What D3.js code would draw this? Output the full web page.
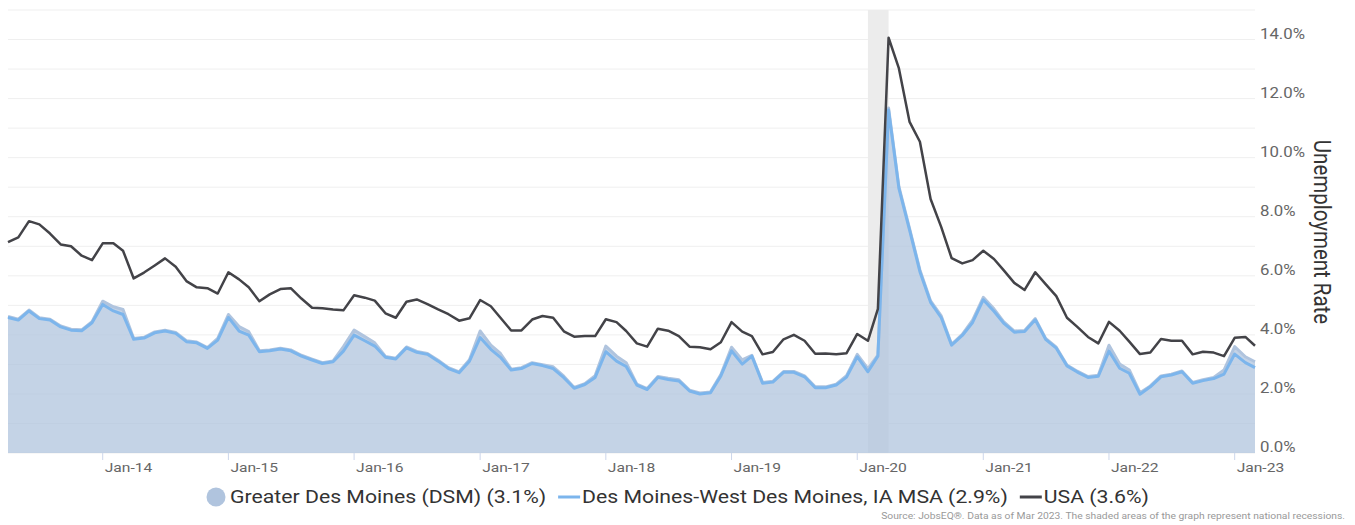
<!DOCTYPE html>
<html>
<head>
<meta charset="utf-8">
<script src="https://cdn.jsdelivr.net/npm/d3@7"></script>
<style>
  body { margin: 0; background: #fff; }
  text { font-family: Roboto, "Noto Sans", sans-serif; }
</style>
</head>
<body>
<div id="chart"></div>
<script>
// monthly unemployment rate, Apr 2013 .. Mar 2023
const usa = [
  7.14, 7.30, 7.85, 7.74, 7.43, 7.06, 7.00, 6.68, 6.53, 7.10, 7.10, 6.85, 5.91, 6.11, 6.35, 6.59, 6.31, 5.82, 5.61, 5.58, 5.40, 6.12, 5.88, 5.61, 5.14, 5.37, 5.55, 5.58, 5.23, 4.92,
  4.90, 4.86, 4.83, 5.34, 5.26, 5.16, 4.73, 4.58, 5.12, 5.20, 5.04, 4.86, 4.70, 4.48, 4.56, 5.18, 4.97, 4.58, 4.15, 4.15, 4.52, 4.64, 4.58, 4.12, 3.94, 3.96, 3.96, 4.53, 4.43, 4.13,
  3.71, 3.60, 4.21, 4.14, 3.96, 3.60, 3.58, 3.51, 3.75, 4.43, 4.11, 3.96, 3.34, 3.42, 3.85, 4.00, 3.80, 3.36, 3.37, 3.34, 3.38, 4.03, 3.80, 4.88, 14.06, 13.02, 11.21, 10.54, 8.60, 7.65,
  6.60, 6.42, 6.53, 6.85, 6.57, 6.19, 5.76, 5.52, 6.12, 5.72, 5.31, 4.58, 4.27, 3.93, 3.71, 4.44, 4.14, 3.77, 3.35, 3.40, 3.86, 3.80, 3.80, 3.34, 3.43, 3.40, 3.28, 3.90, 3.93, 3.63
];
const msa = [
  4.59, 4.50, 4.81, 4.55, 4.50, 4.27, 4.16, 4.14, 4.41, 5.03, 4.81, 4.69, 3.85, 3.89, 4.07, 4.13, 4.05, 3.77, 3.73, 3.54, 3.82, 4.59, 4.13, 3.99, 3.43, 3.46, 3.52, 3.46, 3.28, 3.15,
  3.03, 3.09, 3.45, 3.99, 3.80, 3.62, 3.24, 3.18, 3.56, 3.41, 3.34, 3.11, 2.86, 2.72, 3.11, 3.91, 3.51, 3.24, 2.81, 2.86, 3.03, 2.96, 2.86, 2.55, 2.19, 2.32, 2.56, 3.43, 3.11, 2.93,
  2.30, 2.15, 2.56, 2.49, 2.44, 2.10, 2.00, 2.04, 2.61, 3.46, 3.01, 3.28, 2.36, 2.40, 2.73, 2.73, 2.58, 2.21, 2.21, 2.30, 2.57, 3.26, 2.75, 3.28, 11.61, 8.96, 7.55, 6.14, 5.10, 4.58,
  3.65, 3.98, 4.42, 5.19, 4.80, 4.40, 4.09, 4.11, 4.51, 3.85, 3.55, 2.95, 2.74, 2.56, 2.60, 3.45, 2.87, 2.70, 1.99, 2.24, 2.58, 2.64, 2.75, 2.36, 2.45, 2.52, 2.67, 3.35, 3.06, 2.89
];
const dsm = [
  4.62, 4.53, 4.84, 4.58, 4.53, 4.30, 4.19, 4.17, 4.45, 5.14, 4.95, 4.86, 3.88, 3.92, 4.10, 4.16, 4.08, 3.80, 3.76, 3.57, 3.88, 4.69, 4.28, 4.11, 3.46, 3.49, 3.55, 3.49, 3.31, 3.18,
  3.06, 3.12, 3.60, 4.16, 3.94, 3.73, 3.27, 3.21, 3.59, 3.44, 3.37, 3.14, 2.89, 2.75, 3.16, 4.13, 3.65, 3.37, 2.84, 2.89, 3.06, 2.99, 2.92, 2.60, 2.22, 2.35, 2.62, 3.62, 3.28, 3.06,
  2.33, 2.18, 2.59, 2.53, 2.48, 2.13, 2.03, 2.07, 2.66, 3.58, 3.15, 3.31, 2.39, 2.43, 2.76, 2.76, 2.61, 2.24, 2.24, 2.33, 2.62, 3.34, 2.86, 3.31, 11.68, 9.02, 7.60, 6.20, 5.15, 4.64,
  3.68, 4.02, 4.50, 5.27, 4.88, 4.45, 4.13, 4.15, 4.55, 3.88, 3.58, 2.98, 2.77, 2.59, 2.63, 3.65, 3.01, 2.81, 2.04, 2.27, 2.61, 2.67, 2.78, 2.39, 2.48, 2.56, 2.81, 3.60, 3.26, 3.09
];
const seriesNames = ["Greater Des Moines (DSM) (3.1%)", "Des Moines-West Des Moines, IA MSA (2.9%)", "USA (3.6%)"];
const yTickValues = [0, 2, 4, 6, 8, 10, 12, 14];
const tickYears = [2014, 2015, 2016, 2017, 2018, 2019, 2020, 2021, 2022, 2023];
const recession = [new Date(2020, 1, 1), new Date(2020, 3, 1)];
const months = d3.timeMonth.range(new Date(2013, 3, 1), new Date(2023, 3, 1));
const sourceNote = "Source: JobsEQ\u00AE. Data as of Mar 2023. The shaded areas of the graph represent national recessions.";

const W = 1355, H = 525;
const margin = {top: 10, right: 100, bottom: 72, left: 8};
const sx = 1.2; // the reference text looks stretched sideways

const svg = d3.select("#chart").append("svg").attr("width", W).attr("height", H);

const x = d3.scaleTime()
  .domain([months[0], months[months.length - 1]])
  .range([margin.left, W - margin.right]);
const y = d3.scaleLinear().domain([0, 15]).range([H - margin.bottom, margin.top]);

function place(sel, px, py, extra) {
  return sel.attr("transform", `translate(${px},${py}) scale(${sx},1)${extra || ""}`);
}

// grid lines every 1%
svg.append("g").selectAll("line")
  .data(y.ticks(15))
  .enter().append("line")
  .attr("x1", margin.left).attr("x2", W - margin.right)
  .attr("y1", d => y(d)).attr("y2", d => y(d))
  .attr("stroke", "#efefef").attr("stroke-width", 1);

// recession band
svg.append("rect")
  .attr("x", x(recession[0]))
  .attr("width", x(recession[1]) - x(recession[0]))
  .attr("y", y(15))
  .attr("height", y(0) - y(15))
  .attr("fill", "#ececec");

const rows = months.map((m, i) => ({date: m, usa: usa[i], msa: msa[i], dsm: dsm[i]}));

const area = d3.area()
  .x(d => x(d.date))
  .y0(y(0))
  .y1(d => y(d.dsm));

svg.append("path")
  .datum(rows)
  .attr("d", area)
  .attr("fill", "#b0c4de")
  .attr("fill-opacity", 0.75);

const lineOf = key => d3.line().x(d => x(d.date)).y(d => y(d[key]));

svg.append("path").datum(rows).attr("d", lineOf("dsm"))
  .attr("fill", "none").attr("stroke", "#b0c4de").attr("stroke-width", 3)
  .attr("stroke-linejoin", "round");
svg.append("path").datum(rows).attr("d", lineOf("msa"))
  .attr("fill", "none").attr("stroke", "#7cb5ec").attr("stroke-width", 3)
  .attr("stroke-linejoin", "round");
svg.append("path").datum(rows).attr("d", lineOf("usa"))
  .attr("fill", "none").attr("stroke", "#434348").attr("stroke-width", 2.5)
  .attr("stroke-linejoin", "round");

// x axis
const janDates = tickYears.map(yr => new Date(yr, 0, 1));
const xAxis = svg.append("g");
xAxis.selectAll("line")
  .data(janDates)
  .enter().append("line")
  .attr("x1", d => x(d)).attr("x2", d => x(d))
  .attr("y1", y(0)).attr("y2", y(0) + 7)
  .attr("stroke", "#ccd6eb");
xAxis.selectAll("text")
  .data(janDates)
  .enter().append("text")
  .text(d3.timeFormat("%b-%y"))
  .attr("font-size", 13)
  .attr("fill", "#666")
  .each(function(d) { place(d3.select(this), x(d) + 2, y(0) + 19); });

// y axis on the right
const yAxis = svg.append("g");
yAxis.selectAll("text")
  .data(yTickValues)
  .enter().append("text")
  .text(d => d.toFixed(1) + "%")
  .attr("font-size", 14)
  .attr("fill", "#666")
  .each(function(d) { place(d3.select(this), W - margin.right + 5, y(d) - 1); });

place(svg.append("text"), 1314, 232, " rotate(90)")
  .attr("text-anchor", "middle")
  .attr("font-size", 20.5)
  .attr("fill", "#333")
  .text("Unemployment Rate");

// legend
const legend = svg.append("g");
const items = seriesNames.map((name, i) => {
  const g = legend.append("g");
  if (i === 0) {
    g.append("circle").attr("cx", 10).attr("cy", -6).attr("r", 9.5).attr("fill", "#b0c4de");
  } else {
    g.append("line").attr("x1", 0).attr("x2", 22).attr("y1", -6).attr("y2", -6)
      .attr("stroke", i === 1 ? "#7cb5ec" : "#434348").attr("stroke-width", 3);
  }
  const t = g.append("text").attr("font-size", 17.7).attr("fill", "#333").text(name);
  place(t, 24, 0);
  const w = 24 + t.node().getComputedTextLength() * sx;
  return {g, w};
});
const gap = 12;
const total = d3.sum(items, d => d.w) + gap * (items.length - 1);
let cursor = W / 2 - total / 2;
items.forEach(it => {
  it.g.attr("transform", `translate(${cursor},503)`);
  cursor += it.w + gap;
});

place(svg.append("text"), W - 10, 519)
  .attr("text-anchor", "end")
  .attr("font-size", 8.6)
  .attr("fill", "#999")
  .text(sourceNote);
</script>
</body>
</html>
